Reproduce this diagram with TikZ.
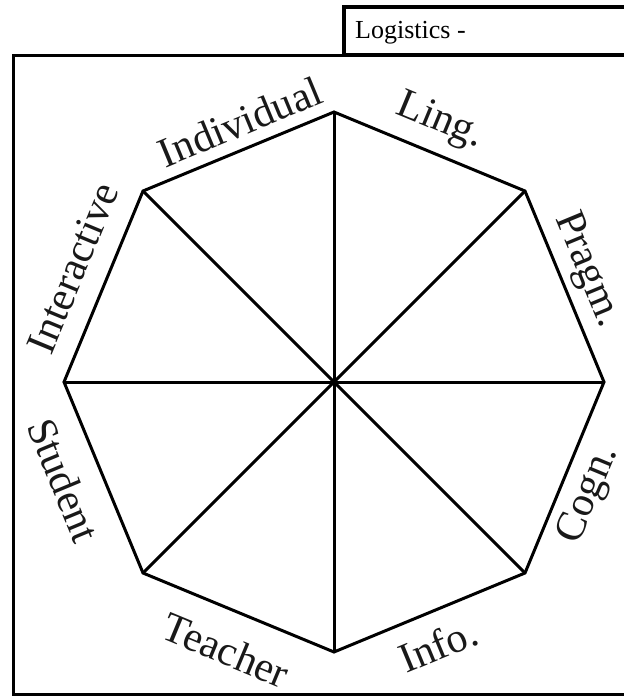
\documentclass[tikz,border=0pt]{standalone}
\usepackage{fontspec}
\setmainfont{Liberation Serif}
\begin{document}
\begin{tikzpicture}[x=1pt,y=-1pt,
  edge/.style={line width=3pt, line join=miter},
  frame/.style={line width=3pt},
  lab/.style={font=\fontsize{42}{42}\selectfont, inner sep=0pt, text=black!90}]
\useasboundingbox (0,0) rectangle (624,697);
\clip (0,0) rectangle (624,697);
% outer frame and title box
\draw[frame] (13,55) rectangle (650,694);
\draw[line width=3.5pt, fill=white] (344,7) rectangle (650,55);
\node[anchor=base west, font=\fontsize{26}{26}\selectfont, inner sep=0pt] (logi) at (355,38) {Logistics -};
% octagon
\coordinate (c) at (334,382);
\coordinate (v0) at (334,112);
\coordinate (v1) at (525,191);
\coordinate (v2) at (604,382);
\coordinate (v3) at (525,573);
\coordinate (v4) at (334,652);
\coordinate (v5) at (143,573);
\coordinate (v6) at (64,382);
\coordinate (v7) at (143,191);
\draw[edge] (v0)--(v1)--(v2)--(v3)--(v4)--(v5)--(v6)--(v7)--cycle;
\draw[edge] (v0)--(v4);
\draw[edge] (v1)--(v5);
\draw[edge] (v2)--(v6);
\draw[edge] (v3)--(v7);
% labels
\node[lab, rotate=22.5] (individual) at (240,122) {Individual};
\node[lab, rotate=-22.5] (ling) at (440,122) {Ling.};
\node[lab, rotate=-67.5] (pragm) at (587,270) {Pragm.};
\node[lab, rotate=67.5] (cogn) at (589,495) {Cogn.};
\node[lab, rotate=22.5] (info) at (438,645) {Info.};
\node[lab, rotate=-22.5] (teacher) at (226,650) {Teacher};
\node[lab, rotate=-67.5] (student) at (64,480) {Student};
\node[lab, rotate=67.5] (interactive) at (73,268) {Interactive};
\end{tikzpicture}
\end{document}
